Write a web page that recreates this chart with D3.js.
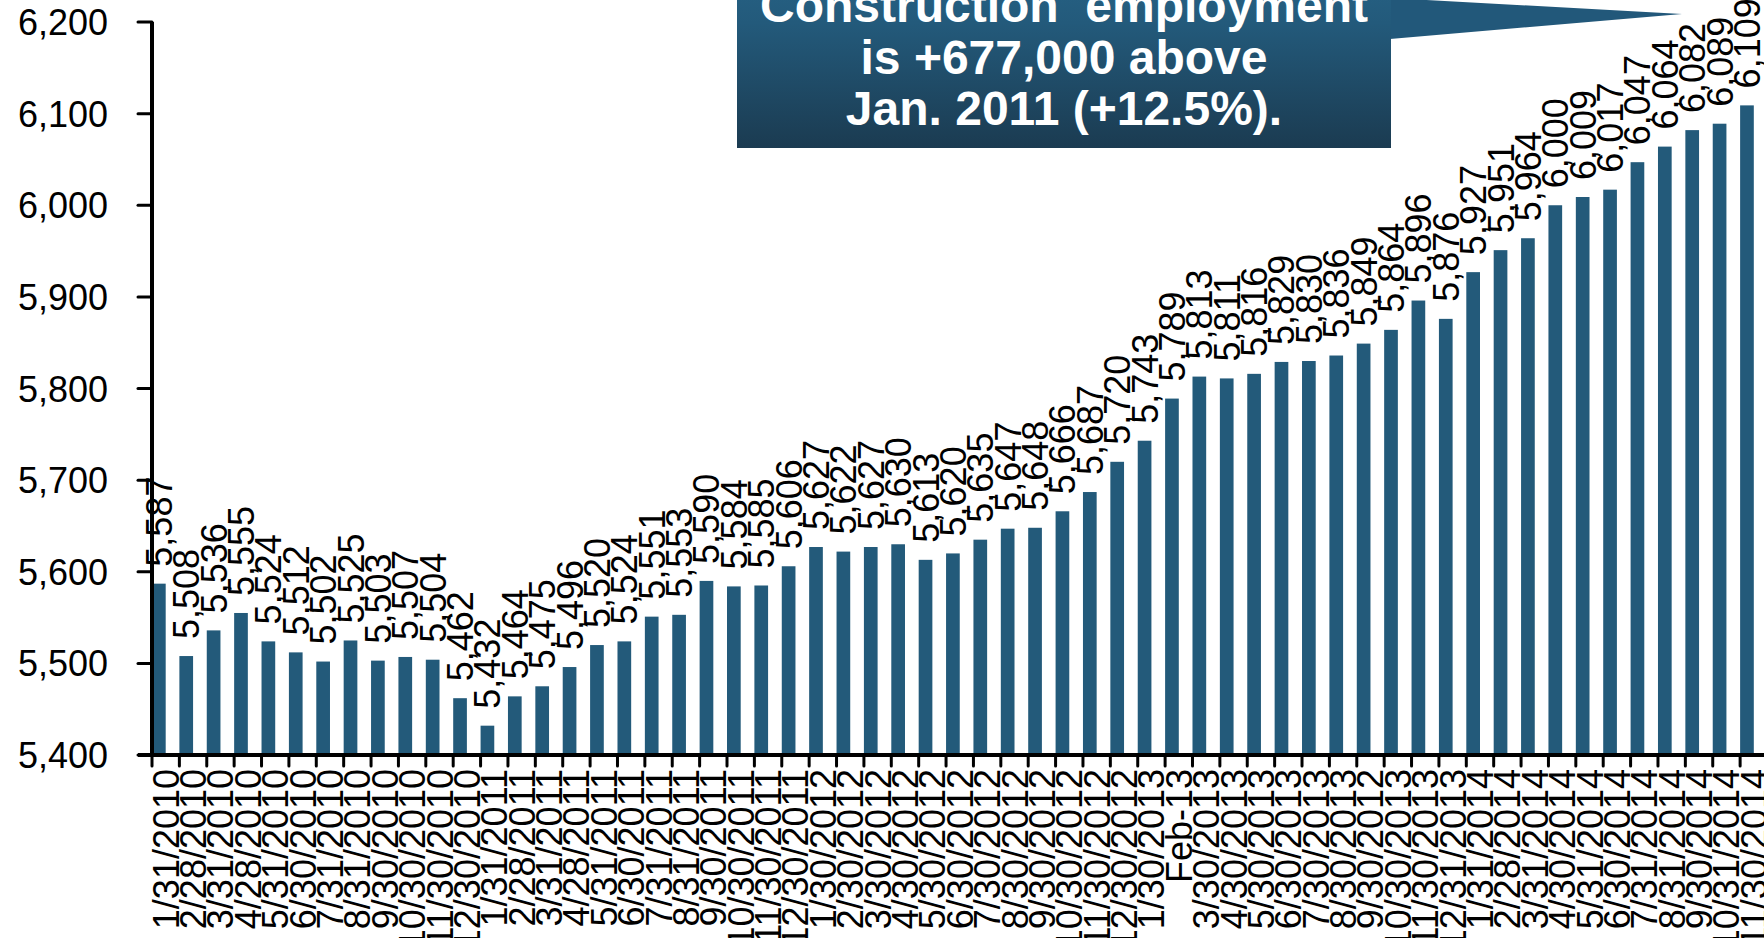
<!DOCTYPE html>
<html>
<head>
    <meta charset="utf-8">
    <script src="https://cdn.jsdelivr.net/npm/d3@7/dist/d3.min.js" type="text/javascript"></script>
    <style type="text/css">
        html, body { margin:0; padding:0; background:#fff; }
        svg { display:block; font-family:"Liberation Sans", Arial, sans-serif; }
        .bar { fill:#235a7a; }
        .axis-line { stroke:#000; stroke-width:4px; }
        .tick-line { stroke:#000; stroke-width:3px; stroke-linecap:round; }
        .ylab, .xlab, .vlab { font-size:36px; fill:#000; }
        .note { font-size:48px; font-weight:bold; fill:#fff; }
    </style>
</head>
<body>
<div id="container"></div>
<script type="text/javascript">

    var categories = ["1/31/2010","2/28/2010","3/31/2010","4/28/2010","5/31/2010","6/30/2010","7/31/2010","8/31/2010","9/30/2010","10/30/2010","11/30/2010","12/30/2010",
        "1/31/2011","2/28/2011","3/31/2011","4/28/2011","5/31/2011","6/30/2011","7/31/2011","8/31/2011","9/30/2011","10/30/2011","11/30/2011","12/30/2011",
        "1/30/2012","2/30/2012","3/30/2012","4/30/2012","5/30/2012","6/30/2012","7/30/2012","8/30/2012","9/30/2012","10/30/2012","11/30/2012","12/30/2012",
        "1/30/2013","Feb-13","3/30/2013","4/30/2013","5/30/2013","6/30/2013","7/30/2013","8/30/2013","9/30/2012","10/30/2013","11/30/2013","12/31/2013",
        "1/31/2014","2/28/2014","3/31/2014","4/30/2014","5/31/2014","6/30/2014","7/31/2014","8/31/2014","9/30/2014","10/31/2014","11/30/2014"];

    var employment = [5587,5508,5536,5555,5524,5512,5502,5525,5503,5507,5504,5462,
        5432,5464,5475,5496,5520,5524,5551,5553,5590,5584,5585,5606,
        5627,5622,5627,5630,5613,5620,5635,5647,5648,5666,5687,5720,
        5743,5789,5813,5811,5816,5829,5830,5836,5849,5864,5896,5876,
        5927,5951,5964,6000,6009,6017,6047,6064,6082,6089,6109];

    var yTicks = [5400,5500,5600,5700,5800,5900,6000,6100,6200];

    var noteLines = ["Construction  employment", "is +677,000 above", "Jan. 2011 (+12.5%)."];

    var W = 1764, H = 938;
    var fmt = d3.format(",");

    var svg = d3.select("#container").append("svg")
        .attr("width", W).attr("height", H);

    // index domain: one label ("9/30/2012") appears twice
    var idx = d3.range(categories.length);
    var x = d3.scaleBand().domain(idx).range([152, 1767.5]).padding(0);
    var y = d3.scaleLinear().domain([5400, 6200]).range([755, 22]);
    var barW = x.bandwidth() * 0.5;

    var data = idx.map(function(i){ return {i:i, cat:categories[i], val:employment[i]}; });

    // bars
    svg.selectAll(".bar").data(data)
        .enter().append("rect")
        .attr("class", "bar")
        .attr("x", function(d){ return x(d.i); })
        .attr("y", function(d){ return y(d.val); })
        .attr("width", barW)
        .attr("height", function(d){ return y(5400) - y(d.val); });

    // value labels, rotated
    svg.selectAll(".vlab").data(data)
        .enter().append("text")
        .attr("class", "vlab")
        .attr("transform", function(d){
            return "translate(" + (x(d.i) + barW / 2 + 13) + "," + (y(d.val) - 17) + ") rotate(-90)";
        })
        .text(function(d){ return fmt(d.val); });

    // y axis
    svg.append("line").attr("class", "axis-line")
        .attr("x1", 152).attr("x2", 152).attr("y1", y(6200)).attr("y2", y(5400));
    svg.selectAll(".ytick").data(yTicks)
        .enter().append("line")
        .attr("class", "tick-line ytick")
        .attr("x1", 138).attr("x2", 152)
        .attr("y1", function(d){ return y(d); })
        .attr("y2", function(d){ return y(d); });
    svg.selectAll(".ylab").data(yTicks)
        .enter().append("text")
        .attr("class", "ylab")
        .attr("x", 108)
        .attr("y", function(d){ return y(d) + 13; })
        .attr("text-anchor", "end")
        .text(function(d){ return fmt(d); });

    // x axis
    svg.append("line").attr("class", "axis-line")
        .attr("x1", 138).attr("x2", W).attr("y1", y(5400)).attr("y2", y(5400));
    svg.selectAll(".xtick").data(data)
        .enter().append("line")
        .attr("class", "tick-line xtick")
        .attr("x1", function(d){ return x(d.i); })
        .attr("x2", function(d){ return x(d.i); })
        .attr("y1", y(5400)).attr("y2", 766);
    svg.selectAll(".xlab").data(data)
        .enter().append("text")
        .attr("class", "xlab")
        .attr("text-anchor", "end")
        .attr("transform", function(d){
            return "translate(" + (x(d.i) + x.bandwidth() / 2 + 13) + ",769) rotate(-90)";
        })
        .text(function(d){ return d.cat; });

    // callout
    var defs = svg.append("defs");
    var grad = defs.append("linearGradient").attr("id", "noteGrad")
        .attr("x1", 0).attr("y1", 0).attr("x2", 0).attr("y2", 1);
    grad.append("stop").attr("offset", "0%").attr("stop-color", "#2a6a90");
    grad.append("stop").attr("offset", "45%").attr("stop-color", "#235a7b");
    grad.append("stop").attr("offset", "100%").attr("stop-color", "#1b3b51");

    svg.append("path")
        .attr("d", "M1390,-2 L1682,14 L1390,39 Z")
        .attr("fill", "#22587a");
    svg.append("rect")
        .attr("x", 737).attr("y", -80).attr("width", 654).attr("height", 228)
        .attr("fill", "url(#noteGrad)");

    svg.selectAll(".note").data(noteLines)
        .enter().append("text")
        .attr("class", "note")
        .attr("x", 1064)
        .attr("y", function(d, i){ return 22 + i * 51.5; })
        .attr("text-anchor", "middle")
        .attr("xml:space", "preserve")
        .style("white-space", "pre")
        .text(function(d){ return d; });

</script>
</body>
</html>
